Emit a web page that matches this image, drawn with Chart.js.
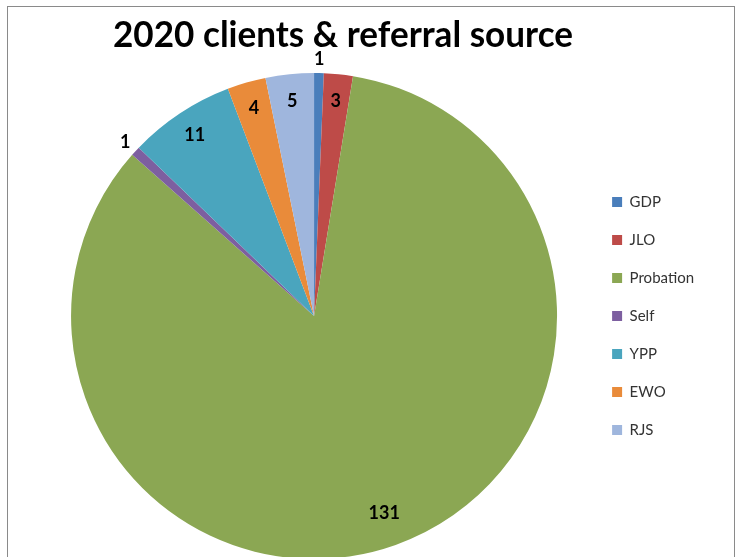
<!DOCTYPE html>
<html lang="en">
<head>
    <meta charset="UTF-8">
    <title>2020 clients & referral source</title>
    <script src="https://cdn.jsdelivr.net/npm/chart.js"></script>
    <style>
        body { margin: 0; overflow: hidden; background: #fff; }
        #frame { position: absolute; left: 7px; top: 6px; width: 726px; height: 600px; border: 1px solid #8a8a8a; }
        #box { width: 726px; height: 560px; }
    </style>
</head>
<body>
    <div id="frame"><div id="box"><canvas id="pieChart"></canvas></div></div>

    <script>
        const chartTitle = "2020 clients & referral source";
        const sources = ["GDP", "JLO", "Probation", "Self", "YPP", "EWO", "RJS"];
        const clients = [1, 3, 131, 1, 11, 4, 5];
        const sliceColors = ["#4A7EBB", "#BE4B48", "#8BA753", "#7D5FA0", "#4AA5BE", "#E98B3A", "#9FB6DD"];

        // title drawn off-centre like the original
        const titlePlugin = {
            id: "offTitle",
            afterDraw(chart) {
                const ctx = chart.ctx;
                ctx.save();
                ctx.font = "bold 37px Lato";
                ctx.fillStyle = "#000";
                ctx.textAlign = "center";
                ctx.textBaseline = "alphabetic";
                const w = ctx.measureText(chartTitle).width;
                ctx.translate(335, 40);
                ctx.scale(460 / w, 1);
                ctx.fillText(chartTitle, 0, 0);
                ctx.restore();
            }
        };

        // value labels near the outer edge, tiny slices outside
        const labelPlugin = {
            id: "sliceLabels",
            afterDatasetsDraw(chart) {
                const ctx = chart.ctx;
                const meta = chart.getDatasetMeta(0);
                ctx.save();
                ctx.font = "bold 18px Lato";
                ctx.fillStyle = "#000";
                ctx.textAlign = "center";
                ctx.textBaseline = "middle";
                meta.data.forEach((arc, i) => {
                    const p = arc.getProps(["x", "y", "startAngle", "endAngle", "outerRadius"], true);
                    const mid = (p.startAngle + p.endAngle) / 2;
                    const v = clients[i];
                    let r = p.outerRadius * 0.89;
                    if (v <= 1) r = p.outerRadius + 14;
                    if (v > 100) r = p.outerRadius * 0.86;
                    ctx.fillText(String(v), p.x + Math.cos(mid) * r, p.y + Math.sin(mid) * r);
                });
                ctx.restore();
            }
        };

        const ctx = document.getElementById("pieChart").getContext("2d");
        new Chart(ctx, {
            type: "pie",
            data: {
                labels: sources,
                datasets: [{
                    data: clients,
                    backgroundColor: sliceColors,
                    borderWidth: 0
                }]
            },
            options: {
                responsive: true,
                maintainAspectRatio: false,
                animation: false,
                layout: { padding: { top: 66, bottom: 8, left: 31, right: 30 } },
                plugins: {
                    tooltip: { enabled: false },
                    legend: {
                        position: "right",
                        labels: {
                            boxWidth: 10,
                            boxHeight: 10,
                            padding: 23,
                            color: "#333333",
                            font: { family: "Lato", size: 15 }
                        }
                    }
                }
            },
            plugins: [titlePlugin, labelPlugin]
        });
    </script>
</body>
</html>
